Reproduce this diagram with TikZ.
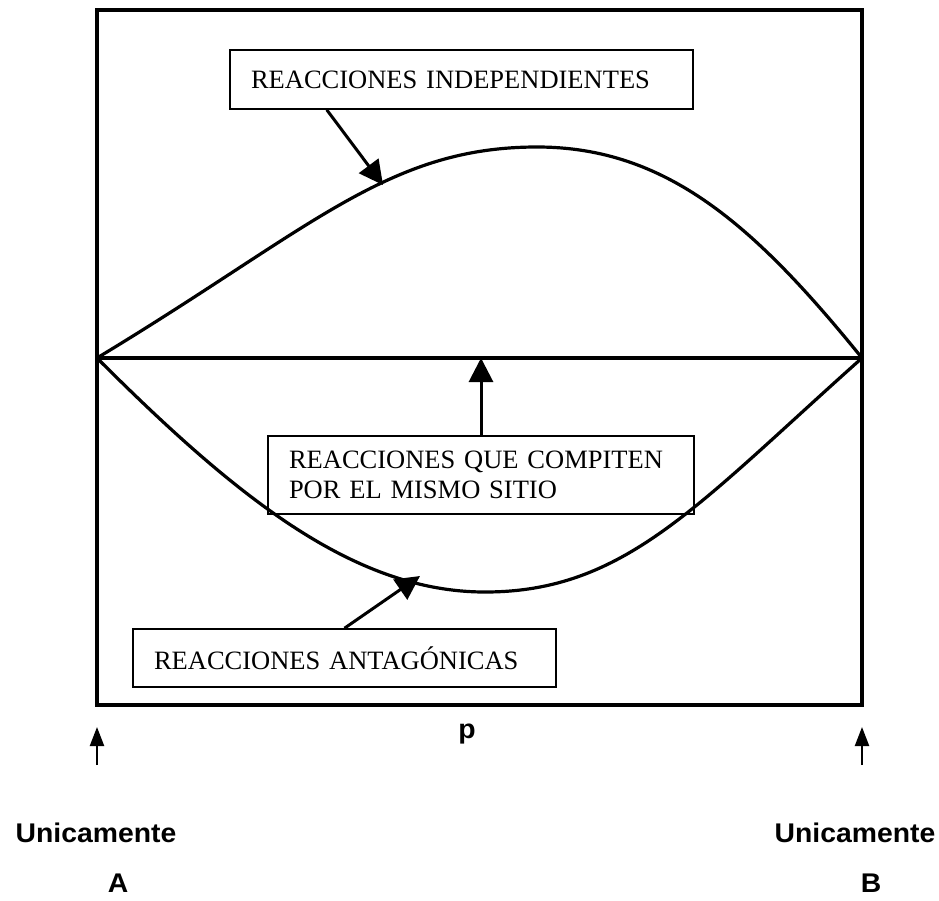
\documentclass[tikz,border=0pt]{standalone}
\usepackage{fontspec}
\setmainfont{Liberation Serif}
\newfontfamily\capfont[FakeStretch=1.05]{Liberation Sans}
\usetikzlibrary{arrows.meta,calc}
\tikzset{
  frame/.style={line width=4pt},
  curve/.style={line width=3.2pt},
  textbox/.style={draw=black, line width=1.6pt, align=left, inner xsep=21pt,
    font=\fontsize{26.5}{30}\selectfont},
  pointer/.style={-{Triangle[length=24pt,width=24pt]}, line width=3pt},
  endarrow/.style={-{Triangle[length=19pt,width=14pt]}, line width=2.2pt},
  endlabel/.style={font=\capfont\bfseries\fontsize{27}{30}\selectfont, anchor=base},
}

\begin{document}
\begin{tikzpicture}[x=1pt, y=-1pt]
  \useasboundingbox (0,0) rectangle (939,900);

  % frame and the line between the two ends
  \coordinate (NW) at (97,10);
  \coordinate (SE) at (862,705);
  \coordinate (SW) at (97,705);
  \coordinate (W) at (97,358);
  \coordinate (E) at (862,358);
  \draw[frame] (NW) rectangle (SE);
  \draw[curve] (W) -- (E);

  % upper and lower curves
  \draw[curve] (W) .. controls (311,229) and (387,147) .. (537,147)
                   .. controls (667,147) and (755,226) .. (E);
  \draw[curve] (W) .. controls (238,499) and (355,592) .. (485,592)
                   .. controls (625,592) and (697,505) .. (E);

  % labels
  \node[textbox, text width=421pt, minimum height=59pt] (indep) at (461.5,79.5)
    {REACCIONES INDEPENDIENTES};
  \node[textbox, text width=384pt, minimum height=78pt] (compite) at (481,475)
    {REACCIONES QUE COMPITEN\\POR EL MISMO SITIO};
  \node[textbox, text width=381pt, minimum height=58pt] (antag) at (344.5,658)
    {REACCIONES ANTAG\'ONICAS};

  \coordinate (hitI) at (383,185);
  \coordinate (hitA) at (420,576);
  \draw[pointer] ($(indep.south west)!0.21!(indep.south east)$) -- (hitI);
  \draw[pointer] (compite.north) -- (compite.north |- W);
  \draw[pointer] (antag.north) -- (hitA);

  % axis
  \node[endlabel] (pvar) at (467,738) {p};
  \draw[endarrow] ($(SW)+(0,60)$) -- ($(SW)+(0,22)$);
  \draw[endarrow] ($(SE)+(0,60)$) -- ($(SE)+(0,22)$);
  \node[endlabel] (onlyA) at (96,842) {Unicamente};
  \node[endlabel] (letA) at (118,892) {A};
  \node[endlabel] (onlyB) at (855,842) {Unicamente};
  \node[endlabel] (letB) at (871,892) {B};
\end{tikzpicture}
\end{document}
